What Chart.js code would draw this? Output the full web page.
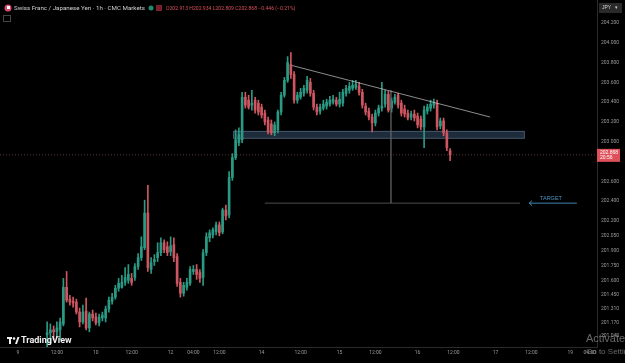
<!DOCTYPE html>
<html>
<head>
<meta charset="utf-8">
<script src="https://cdn.jsdelivr.net/npm/chart.js@4.4.1/dist/chart.umd.min.js"></script>
<style>
  html, body { margin: 0; padding: 0; background: #000; }
  #wrap { width: 625px; height: 363px; }
</style>
</head>
<body>
<div id="wrap"><canvas id="chart" width="625" height="363"></canvas></div>
<script>
// hourly candles, CHF/JPY 1h - first candle sits at slot 14
const firstSlot = 14;
const opens = [201.05,201.07,201.10,201.08,201.10,201.16,201.53,201.41,201.39,201.38,201.28,201.18,201.29,201.12,201.26,201.23,201.17,201.22,201.22,201.31,201.39,201.43,201.52,201.53,201.58,201.60,201.62,201.63,201.74,201.83,201.93,202.28,201.71,201.79,201.83,201.88,201.98,201.94,201.89,201.96,201.84,201.58,201.47,201.53,201.57,201.69,201.71,201.68,201.63,201.88,202.03,202.06,202.09,202.16,202.09,202.31,202.26,202.64,202.84,202.99,203.02,203.45,203.42,203.37,203.42,203.39,203.35,203.29,203.22,203.18,203.09,203.12,203.30,203.47,203.62,203.78,203.68,203.42,203.45,203.49,203.52,203.60,203.49,203.35,203.31,203.34,203.36,203.38,203.40,203.42,203.38,203.39,203.49,203.52,203.54,203.55,203.56,203.50,203.36,203.31,203.25,203.19,203.29,203.34,203.38,203.48,203.34,203.40,203.47,203.39,203.33,203.29,203.25,203.28,203.26,203.23,203.15,203.31,203.34,203.37,203.39,203.16,203.21,203.09,202.91];
const highs = [201.18,201.16,201.14,201.18,201.22,201.62,201.69,201.45,201.43,201.41,201.32,201.35,201.42,201.28,201.30,201.27,201.26,201.28,201.34,201.43,201.47,201.55,201.62,201.65,201.73,201.76,201.67,201.77,201.87,202.04,202.41,202.56,201.83,201.86,201.98,202.03,202.01,201.99,202.04,202.03,201.87,201.62,201.58,201.62,201.74,201.75,201.76,201.71,201.91,202.08,202.11,202.13,202.19,202.19,202.33,202.36,202.70,202.88,203.12,203.14,203.50,203.50,203.47,203.52,203.45,203.42,203.38,203.32,203.25,203.22,203.20,203.32,203.50,203.65,203.86,203.90,203.71,203.50,203.54,203.57,203.66,203.64,203.52,203.38,203.38,203.42,203.43,203.46,203.47,203.45,203.50,203.53,203.57,203.60,203.62,203.62,203.60,203.53,203.39,203.34,203.28,203.32,203.37,203.60,203.52,203.51,203.44,203.48,203.49,203.42,203.37,203.32,203.31,203.32,203.29,203.26,203.36,203.38,203.42,203.43,203.42,203.24,203.24,203.12,202.93];
const lows = [200.88,200.95,201.00,201.02,201.00,201.14,201.38,201.35,201.33,201.26,201.13,201.16,201.10,201.08,201.19,201.15,201.14,201.19,201.18,201.28,201.36,201.41,201.49,201.52,201.55,201.57,201.55,201.60,201.71,201.80,201.91,201.69,201.67,201.75,201.79,201.85,201.88,201.85,201.85,201.79,201.54,201.43,201.44,201.50,201.55,201.66,201.61,201.58,201.55,201.85,201.99,202.03,202.06,202.05,202.07,202.21,202.23,202.61,202.82,202.96,202.99,203.34,203.33,203.32,203.29,203.27,203.24,203.17,203.08,203.07,203.06,203.09,203.27,203.45,203.60,203.64,203.39,203.39,203.43,203.46,203.49,203.46,203.32,203.27,203.28,203.32,203.33,203.36,203.38,203.36,203.35,203.36,203.46,203.49,203.52,203.53,203.47,203.34,203.27,203.22,203.10,203.16,203.26,203.31,203.35,203.30,203.30,203.38,203.34,203.26,203.25,203.22,203.22,203.21,203.14,203.12,202.94,203.28,203.31,203.34,203.12,203.13,203.06,202.91,202.81];
const closes = [201.07,201.10,201.08,201.12,201.18,201.53,201.40,201.38,201.37,201.28,201.18,201.28,201.12,201.26,201.22,201.17,201.23,201.25,201.31,201.40,201.43,201.52,201.57,201.58,201.63,201.66,201.58,201.74,201.83,201.94,202.28,201.73,201.78,201.81,201.88,201.98,201.91,201.88,201.95,201.83,201.57,201.47,201.55,201.58,201.71,201.71,201.66,201.62,201.88,202.04,202.08,202.11,202.16,202.08,202.31,202.25,202.64,202.84,203.02,203.07,203.45,203.37,203.35,203.39,203.32,203.30,203.27,203.20,203.10,203.09,203.17,203.30,203.47,203.62,203.80,203.68,203.42,203.47,203.50,203.54,203.62,203.49,203.35,203.30,203.35,203.38,203.40,203.42,203.43,203.38,203.43,203.50,203.54,203.56,203.57,203.58,203.50,203.37,203.30,203.25,203.19,203.29,203.34,203.36,203.48,203.32,203.41,203.45,203.37,203.29,203.28,203.24,203.28,203.24,203.17,203.15,203.32,203.35,203.38,203.40,203.15,203.21,203.09,202.94,202.868];

// time axis
const lastSlot = 183.2;
const timeTickSlots = [5, 17, 29, 40, 52, 59, 67, 80, 92, 104, 115, 128, 139, 152, 163, 175, 181];
const timeTickLabels = ['9', '12:00', '10', '12:00', '12', '04:00', '12:00', '14', '12:00', '15', '12:00', '16', '12:00', '17', '12:00', '19', '04:00'];

// price axis
const priceMin = 200.927;
const priceMax = 204.432;
const priceTicks = [204.2, 204.0, 203.8, 203.6, 203.4, 203.2, 203.0, 202.6, 202.4, 202.2, 202.05, 201.9, 201.75, 201.6, 201.45, 201.31, 201.17, 201.04];
const lastPrice = 202.868;

// drawings
const trendSlots = [89.4, 150.3];
const trendPrices = [203.77, 203.25];
const zoneSlots = [71.2, 161];
const zonePrices = [203.03, 203.11];
const targetPrice = 202.38;
const targetSlots = [81, 159.5];
const arrowSlots = [162.3, 177];
const measureSlot = 119.8;
const measureTop = 203.52;

const UP = '#2a9a84';
const DOWN = '#cf5660';

const slots = opens.map((o, i) => firstSlot + i);
const candleColors = opens.map((o, i) => closes[i] >= o ? UP : DOWN);

const bodies = slots.map((s, i) => ({ x: s, y: [opens[i], closes[i]] }));
const wicks = slots.map((s, i) => ({ x: s, y: [lows[i], highs[i]] }));

function lineData(xs, ys) {
    return xs.map((x, i) => ({ x: x, y: ys[i] }));
}

// zone box, arrow head, labels, header and watermark
const overlay = {
    id: 'overlay',
    beforeDatasetsDraw(chart) {
        const { ctx, scales: { x, y } } = chart;
        const x1 = x.getPixelForValue(zoneSlots[0]);
        const x2 = x.getPixelForValue(zoneSlots[1]);
        const yTop = y.getPixelForValue(zonePrices[1]);
        const yBot = y.getPixelForValue(zonePrices[0]);
        ctx.save();
        ctx.fillStyle = 'rgba(66, 96, 128, 0.45)';
        ctx.fillRect(x1, yTop, x2 - x1, yBot - yTop);
        ctx.strokeStyle = 'rgba(110, 140, 170, 0.45)';
        ctx.lineWidth = 1;
        ctx.strokeRect(x1 + 0.5, yTop + 0.5, x2 - x1 - 1, yBot - yTop - 1);
        ctx.restore();
    },
    afterDraw(chart) {
        const { ctx, chartArea, scales: { x, y } } = chart;
        ctx.save();

        // arrow head + TARGET label
        const ay = y.getPixelForValue(targetPrice);
        const ax = x.getPixelForValue(arrowSlots[0]);
        ctx.strokeStyle = '#3f86b0';
        ctx.lineWidth = 1;
        ctx.beginPath();
        ctx.moveTo(ax + 3, ay - 2.5);
        ctx.lineTo(ax, ay);
        ctx.lineTo(ax + 3, ay + 2.5);
        ctx.stroke();
        ctx.fillStyle = '#4a94c0';
        ctx.font = '5.5px "Liberation Sans", Arial, sans-serif';
        ctx.textAlign = 'center';
        ctx.textBaseline = 'middle';
        ctx.fillText('TARGET', x.getPixelForValue((arrowSlots[0] + arrowSlots[1]) / 2) - 2, ay - 5);

        // last price label on the axis
        const py = y.getPixelForValue(lastPrice);
        ctx.fillStyle = '#e0505a';
        ctx.fillRect(chartArea.right, py - 6, 23, 13);
        ctx.fillStyle = '#fff';
        ctx.font = '5px "Liberation Sans", Arial, sans-serif';
        ctx.textAlign = 'left';
        ctx.fillText(lastPrice.toFixed(3), chartArea.right + 3, py - 2);
        ctx.fillText('20:56', chartArea.right + 3, py + 3);

        // currency box
        ctx.fillStyle = '#2a2a2a';
        ctx.fillRect(599, 3, 23, 10);
        ctx.fillStyle = '#d0d0d0';
        ctx.font = '5px "Liberation Sans", Arial, sans-serif';
        ctx.fillText('JPY', 602, 8);
        ctx.fillText('\u25BE', 615, 8);

        // header
        ctx.fillStyle = '#d64b6a';
        ctx.beginPath();
        ctx.arc(8, 8, 3.5, 0, Math.PI * 2);
        ctx.fill();
        ctx.fillStyle = '#fff';
        ctx.fillRect(7, 6, 3, 3);
        ctx.fillStyle = '#cfcfcf';
        ctx.font = '6.2px Roboto, "Liberation Sans", Arial, sans-serif';
        ctx.textBaseline = 'middle';
        ctx.fillText('Swiss Franc / Japanese Yen \u00B7 1h \u00B7 CMC Markets', 14, 8.5);
        ctx.fillStyle = '#1f8a6e';
        ctx.beginPath();
        ctx.arc(151, 8, 2.5, 0, Math.PI * 2);
        ctx.fill();
        ctx.fillStyle = '#7a1f2a';
        ctx.fillRect(156, 5, 6, 6);
        ctx.fillStyle = '#d8505a';
        ctx.font = '5.1px Roboto, "Liberation Sans", Arial, sans-serif';
        ctx.fillText('O202.913 H202.934 L202.809 C202.868 \u22120.446 (\u22120.21%)', 166, 8.5);
        ctx.strokeStyle = '#444';
        ctx.strokeRect(3.5, 15.5, 7, 6);

        // TradingView logo
        ctx.fillStyle = '#f0f0f0';
        ctx.font = 'bold 9px Roboto, "Liberation Sans", Arial, sans-serif';
        ctx.fillText('TradingView', 21, 341);
        ctx.fillRect(7, 337, 5, 2);
        ctx.fillRect(9, 337, 2, 7);
        ctx.beginPath();
        ctx.arc(14, 338.5, 1.3, 0, Math.PI * 2);
        ctx.fill();
        ctx.beginPath();
        ctx.moveTo(15, 344);
        ctx.lineTo(17.5, 337);
        ctx.lineTo(19.5, 337);
        ctx.lineTo(17, 344);
        ctx.closePath();
        ctx.fill();

        // windows watermark
        ctx.fillStyle = 'rgba(170, 170, 170, 0.6)';
        ctx.font = '11px "Liberation Sans", Arial, sans-serif';
        ctx.fillText('Activate Windows', 586, 339);
        ctx.font = '8px "Liberation Sans", Arial, sans-serif';
        ctx.fillText('Go to Settings to activate Windows.', 586, 352);

        ctx.restore();
    }
};

const ctx = document.getElementById('chart').getContext('2d');

new Chart(ctx, {
    type: 'bar',
    data: {
        datasets: [
            {
                type: 'line',
                data: lineData(trendSlots, trendPrices),
                borderColor: 'rgba(200, 200, 200, 0.7)',
                borderWidth: 1,
                pointRadius: 0,
                order: -1
            },
            {
                type: 'line',
                data: lineData(targetSlots, [targetPrice, targetPrice]),
                borderColor: 'rgba(110, 110, 110, 0.7)',
                borderWidth: 1,
                pointRadius: 0,
                order: -1
            },
            {
                type: 'line',
                data: lineData(arrowSlots, [targetPrice, targetPrice]),
                borderColor: '#3f86b0',
                borderWidth: 1,
                pointRadius: 0,
                order: -1
            },
            {
                type: 'line',
                data: lineData([measureSlot, measureSlot], [measureTop, targetPrice]),
                borderColor: 'rgba(100, 100, 100, 0.6)',
                borderWidth: 1,
                pointRadius: 0,
                order: -1
            },
            {
                type: 'line',
                data: lineData([-0.5, lastSlot], [lastPrice, lastPrice]),
                borderColor: 'rgba(170, 110, 110, 0.5)',
                borderWidth: 1,
                borderDash: [1, 2],
                pointRadius: 0,
                order: -1
            },
            {
                label: 'bodies',
                data: bodies,
                backgroundColor: candleColors,
                barThickness: 2,
                minBarLength: 1,
                grouped: false
            },
            {
                label: 'wicks',
                data: wicks,
                backgroundColor: candleColors,
                barThickness: 1,
                grouped: false
            }
        ]
    },
    options: {
        responsive: false,
        animation: false,
        devicePixelRatio: 1,
        layout: { padding: 0 },
        plugins: {
            legend: { display: false },
            tooltip: { enabled: false }
        },
        scales: {
            x: {
                type: 'linear',
                offset: false,
                min: -0.5,
                max: lastSlot,
                grid: { display: false, drawTicks: false },
                border: { color: '#2a2a2a' },
                afterBuildTicks: (scale) => {
                    scale.ticks = timeTickSlots.map(v => ({ value: v }));
                },
                afterFit: (scale) => {
                    scale.height = 16;
                    scale.paddingLeft = 0;
                    scale.paddingRight = 0;
                },
                ticks: {
                    autoSkip: false,
                    maxRotation: 0,
                    padding: 3,
                    color: '#9a9a9a',
                    font: { size: 5, family: 'Roboto, "Liberation Sans", Arial, sans-serif' },
                    callback: (value) => timeTickLabels[timeTickSlots.indexOf(value)]
                }
            },
            y: {
                position: 'right',
                min: priceMin,
                max: priceMax,
                grid: { display: false, drawTicks: false },
                border: { color: '#2a2a2a' },
                afterBuildTicks: (scale) => {
                    scale.ticks = priceTicks.map(v => ({ value: v }));
                },
                afterFit: (scale) => {
                    scale.width = 28;
                    scale.paddingTop = 0;
                    scale.paddingBottom = 0;
                },
                ticks: {
                    autoSkip: false,
                    padding: 4,
                    color: '#9a9a9a',
                    font: { size: 5, family: 'Roboto, "Liberation Sans", Arial, sans-serif' },
                    callback: (value) => value.toFixed(3)
                }
            }
        }
    },
    plugins: [overlay]
});
</script>
</body>
</html>
